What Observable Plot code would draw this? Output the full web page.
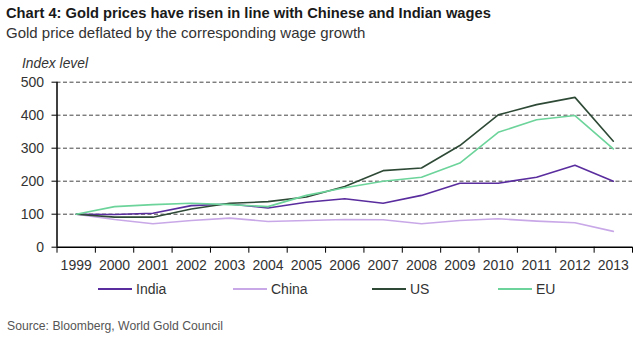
<!DOCTYPE html>
<html><head><meta charset="utf-8">
<script src="https://cdn.jsdelivr.net/npm/d3@7"></script>
<script src="https://cdn.jsdelivr.net/npm/@observablehq/plot@0.6"></script>
<style>
body{margin:0;background:#fff;font-family:"Liberation Sans",Arial,sans-serif;}
#wrap{position:relative;width:640px;height:344px;overflow:hidden;background:#fff;}
.abs{position:absolute;white-space:nowrap;line-height:1;}
#chart{position:absolute;left:0;top:60px;}
.lg{position:absolute;top:281px;font-size:14px;color:#333;display:flex;align-items:center;}
.sw{display:inline-block;width:34px;height:2px;margin-right:4px;}
</style></head><body><div id="wrap">
<div class="abs" style="left:6px;top:6px;font-weight:bold;font-size:14.7px;color:#1a1a1a">Chart 4: Gold prices have risen in line with Chinese and Indian wages</div>
<div class="abs" style="left:6px;top:25px;font-size:15px;color:#333">Gold price deflated by the corresponding wage growth</div>
<div class="abs" style="left:22px;top:57px;font-size:13.8px;font-style:italic;color:#333">Index level</div>
<div id="chart"></div>
<div id="legend"></div>
<div class="abs" style="left:7px;top:320px;font-size:12.2px;color:#555">Source: Bloomberg, World Gold Council</div>
</div>
<script>
const years = [1999,2000,2001,2002,2003,2004,2005,2006,2007,2008,2009,2010,2011,2012,2013];
const seriesNames = ["India","China","US","EU"];
const seriesColors = ["#5a2d9e","#c9a8e8","#2e4a36","#6cd49a"];
const india = [100, 99,103,126,131,119,136,147,133,157,194,194,212,248,200];
const china = [100, 84, 71, 81, 88, 78, 81, 84, 83, 71, 81, 86, 79, 74, 48];
const us    = [100, 91, 91,116,133,138,152,184,232,240,308,401,432,454,321];
const eu    = [100,123,129,133,129,123,157,180,200,212,255,348,386,399,298];
const yTicks = [0,100,200,300,400,500];

const valuesBySeries = [india, china, us, eu];
const data = [];
seriesNames.forEach((s, i) => years.forEach((yr, j) => data.push({series: s, year: yr, value: valuesBySeries[i][j]})));
const bounds = years.map(y => y - 0.5).concat([years[years.length-1] + 0.5]);

const plot = Plot.plot({
  width: 640, height: 225,
  marginLeft: 56.5, marginRight: 8, marginTop: 21.7, marginBottom: 38.3,
  style: {fontFamily: '"Liberation Sans", Arial, sans-serif', fontSize: "14px", background: "transparent"},
  x: {domain: [bounds[0], bounds[bounds.length-1]], axis: null},
  y: {domain: [0, 500], axis: null},
  color: {domain: seriesNames, range: seriesColors},
  marks: [
    Plot.gridY(yTicks.slice(1), {stroke: "#444", strokeOpacity: 1, strokeDasharray: "4,2.5", strokeWidth: 1}),
    Plot.axisY(yTicks, {tickSize: 5, tickPadding: 8, fontSize: 14, fill: "#333", stroke: "#000", label: null}),
    Plot.axisX(bounds, {tickSize: 6, tickFormat: () => "", stroke: "#000", label: null}),
    Plot.axisX(years, {tickSize: 0, tickPadding: 13, fontSize: 14, fill: "#333", tickFormat: d => String(d), label: null}),
    Plot.ruleX([bounds[0]], {y1: 0, y2: 500, stroke: "#000", strokeWidth: 1.5}),
    Plot.ruleY([0], {stroke: "#000", strokeWidth: 1.5}),
    Plot.line(data, {x: "year", y: "value", z: "series", stroke: "series", strokeWidth: 1.6})
  ]
});
document.getElementById("chart").appendChild(plot);

const lefts = [98, 233, 372, 498];
const leg = document.getElementById("legend");
seriesNames.forEach((s, i) => {
  const d = document.createElement("div");
  d.className = "lg";
  d.style.left = lefts[i] + "px";
  d.innerHTML = `<span class="sw" style="background:${seriesColors[i]}"></span><span>${s}</span>`;
  leg.appendChild(d);
});
</script>
</body></html>
